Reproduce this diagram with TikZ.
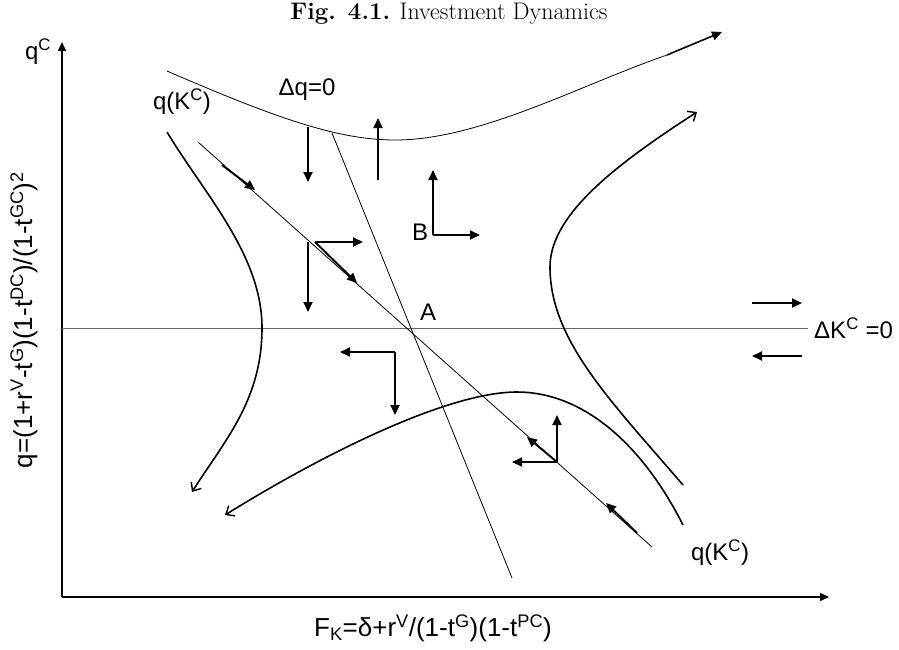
\documentclass[tikz,border=0pt]{standalone}
\usepackage{fontspec}
\newfontfamily\arialf{Liberation Sans}
\usetikzlibrary{arrows.meta}
\tikzset{
  lbl/.style={font=\arialf\fontsize{24}{28}\selectfont, inner sep=0pt},
  axlbl/.style={font=\arialf\fontsize{26}{30}\selectfont, inner sep=0pt},
  thinline/.style={line width=0.8pt},
  axisline/.style={line width=1.6pt, -{Triangle[length=9pt,width=8pt]}},
  opentip/.style={line width=1.6pt, -{Straight Barb[length=7pt,width=12pt,line width=1.4pt]}},
  flow/.style={line width=1.9pt, -{Triangle[length=10pt,width=9pt]}},
}
\begin{document}
\begin{tikzpicture}[x=1pt,y=-1pt]
\useasboundingbox (0,0) rectangle (899,649);
% title
\node[font=\fontsize{24}{28}\selectfont, inner sep=0pt, anchor=north] (title) at (449,3) {\textbf{Fig. 4.1.} Investment Dynamics};
% axes
\coordinate (O) at (62,597);
\coordinate (ytop) at (62,42);
\coordinate (xend) at (829,597);
\draw[axisline] (O) -- (ytop);
\draw[axisline] (O) -- (xend);
\node[lbl] (qc) at (38,52) {q\textsuperscript{C}};
\node[axlbl, rotate=90] (ylab) at (24,320) {q=(1+r\textsuperscript{V}-t\textsuperscript{G})(1-t\textsuperscript{DC})/(1-t\textsuperscript{GC})\textsuperscript{2}};
\node[axlbl] (xlab) at (433,628) {F\textsubscript{K}=δ+r\textsuperscript{V}/(1-t\textsuperscript{G})(1-t\textsuperscript{PC})};
% DeltaK = 0 line
\coordinate (hl) at (62,328);
\coordinate (hr) at (808,328);
\draw[line width=1pt, black!60] (hl) -- (hr);
\node[lbl, anchor=west] (dk) at (814,328) {ΔK\textsuperscript{C} =0};
% Delta q = 0 line
\coordinate (dq1) at (332,133);
\coordinate (dq2) at (512,578);
\draw[thinline] (dq1) -- (dq2);
% saddle path
\coordinate (sp1) at (198,142);
\coordinate (sp2) at (652,547);
\draw[thinline] (sp1) -- (sp2);
% labels
\node[lbl] (dqlab) at (307,90) {Δq=0};
\node[lbl] (qk1) at (182,102) {q(K\textsuperscript{C})};
\node[lbl] (qk2) at (720,553) {q(K\textsuperscript{C})};
\node[lbl] (A) at (428,312) {A};
\node[lbl] (B) at (420,232) {B};
% upper thin curve
\coordinate (ua1) at (667,55);
\coordinate (ua2) at (722,32);
\draw[thinline] (167,71) .. controls (280,120) and (340,140) .. (395,140) .. controls (480,140) and (580,85) .. (ua1);
\draw[flow, line width=1.6pt] (ua1) -- (ua2);
% left branch
\draw[opentip] (167,132) .. controls (205,195) and (262,255) .. (262,328) .. controls (262,400) and (225,440) .. (192,492);
% right branch
\draw[opentip] (683,485) .. controls (610,400) and (550,340) .. (550,267) .. controls (550,215) and (615,165) .. (697,112);
% lower branch
\draw[opentip] (683,525) .. controls (640,440) and (580,392) .. (517,392) .. controls (450,392) and (330,450) .. (225,515);
% flow arrows
\draw[flow] (308,127) -- (308,182);
\draw[flow] (378,180) -- (378,118);
\coordinate (Bc) at (433,235);
\draw[flow] (Bc) -- (433,170);
\draw[flow] (Bc) -- (480,235);
\draw[flow] (222,165) -- (255,190);
\coordinate (C1) at (315,242);
\draw[flow] (C1) -- (363,242);
\draw[flow] (C1) -- (357,283);
\draw[flow] (308,242) -- (308,312);
\coordinate (C2) at (395,352);
\draw[flow] (C2) -- (340,352);
\draw[flow] (C2) -- (395,415);
\coordinate (C3) at (557,462);
\draw[flow] (C3) -- (557,415);
\draw[flow] (C3) -- (512,462);
\draw[flow] (C3) -- (527,437);
\draw[flow] (637,533) -- (606,503);
\draw[flow] (752,303) -- (802,303);
\draw[flow] (802,356) -- (752,356);
\end{tikzpicture}
\end{document}
